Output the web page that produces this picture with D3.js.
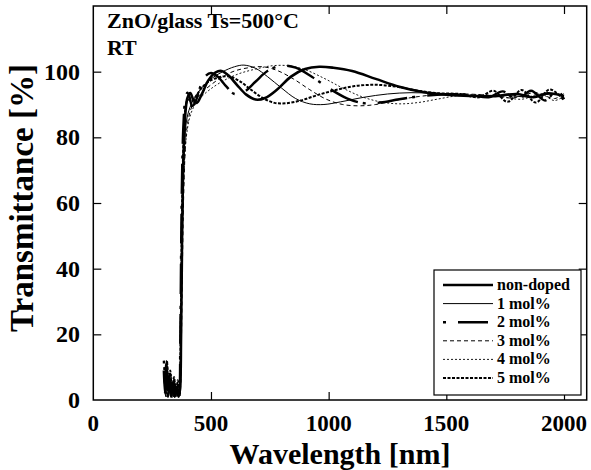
<!DOCTYPE html>
<html>
<head>
<meta charset="utf-8">
<script src="https://cdn.jsdelivr.net/npm/d3@7"></script>
<style>
  body { margin: 0; background: #fff; }
  text { font-family: "Liberation Serif", "Times New Roman", serif; font-weight: bold; fill: #000; }
</style>
</head>
<body>
<div id="chart"></div>
<script>
// wavelength [nm], transmittance [%]
var nonDoped = [[300,9],[305,2],[310,11],[316,3],[322,7],[330,1],[338,5],[346,1],[354,4],[362,1],[368,3],[373,20],[377,48],[381,68],[386,80],[392,88],[400,92],[412,93.5],[425,91.5],[440,90.5],[460,93],[490,97.5],[520,99.8],[545,100.2],[575,98.8],[610,96],[650,93],[690,91.5],[730,92],[780,94.5],[840,98.5],[900,100.8],[960,101.5],[1020,101.2],[1100,100.2],[1200,97.8],[1300,95.4],[1400,93.8],[1500,93],[1600,92.6],[1700,92.5],[1800,93.2],[1870,92.2],[1930,93.4],[2000,92.6]];
var oneMol = [[302,6],[308,1],[314,8],[320,2],[328,6],[336,2],[344,4],[352,1],[360,3],[367,2],[372,18],[377,45],[382,66],[388,78],[396,85],[410,89],[430,92],[460,95],[500,97.8],[550,100],[600,101.5],[640,102],[690,101],[740,98.5],[800,95],[860,91.8],[920,90.2],[980,90],[1050,90.8],[1150,92.2],[1250,93.2],[1350,93.6],[1450,93.4],[1550,93],[1650,92.7],[1750,92.8],[1850,92.3],[1950,93.2],[2000,92.6]];
var twoMol = [[300,12],[306,4],[312,9],[318,1],[326,8],[334,2],[342,6],[350,2],[358,5],[365,1],[370,22],[374,52],[378,72],[383,84],[390,91],[400,93.6],[410,92],[420,89.5],[435,91],[455,95.5],[475,98.5],[500,99.6],[530,98.4],[565,95.5],[600,93.2],[640,93.8],[690,97],[740,100.2],[800,101.8],[860,101.2],[930,98.4],[1000,95],[1080,91.8],[1150,90.4],[1220,90.6],[1300,91.6],[1400,92.6],[1500,93.1],[1600,93],[1680,92.2],[1740,94],[1800,91.4],[1860,94.2],[1920,91.2],[1970,94.4],[2000,91.6]];
var threeMol = [[304,7],[310,2],[316,10],[324,3],[332,7],[340,1],[348,5],[356,2],[364,4],[369,2],[374,16],[379,42],[384,62],[390,75],[398,83],[412,88],[430,91],[460,93.5],[500,96],[550,98.5],[600,100.2],[660,101.2],[720,101.5],[780,100.4],[850,97.8],[920,94.5],[990,91.6],[1060,90],[1130,89.6],[1200,90],[1280,91.2],[1380,92.4],[1480,93.1],[1580,93.2],[1680,92.8],[1780,92],[1880,93.6],[1960,91.8],[2000,93.4]];
var fourMol = [[306,5],[312,1],[318,7],[326,2],[334,5],[342,1],[350,3],[358,1],[366,2],[371,12],[376,38],[381,58],[387,72],[395,80],[408,85.5],[425,89],[455,92],[500,94.8],[560,97.5],[620,99.4],[690,100.8],[760,101.8],[830,101.8],[900,100.6],[980,98],[1060,95],[1140,92.4],[1220,90.8],[1300,90.2],[1380,90.6],[1460,91.6],[1540,92.6],[1620,93],[1720,92.6],[1820,91.6],[1900,93.2],[1960,91.2],[2000,92.6]];
var fiveMol = [[301,10],[307,3],[313,12],[319,4],[327,9],[335,1],[343,7],[351,2],[359,6],[366,1],[371,19],[375,46],[380,70],[385,82],[392,89],[402,91.5],[418,91],[436,92.5],[460,95],[490,97],[530,98.2],[575,98.6],[620,97.2],[670,94.5],[720,92],[770,90.5],[820,90.4],[880,91.2],[950,92.8],[1030,94.4],[1110,95.6],[1200,96],[1290,95.4],[1380,94.2],[1470,93.4],[1560,93.2],[1640,92.2],[1700,94.2],[1760,90.8],[1820,94.4],[1880,90.6],[1940,94.6],[2000,91.2]];

var seriesNames = ["non-doped", "1 mol%", "2 mol%", "3 mol%", "4 mol%", "5 mol%"];
var seriesData = [nonDoped, oneMol, twoMol, threeMol, fourMol, fiveMol];

var xTicks = [0, 500, 1000, 1500, 2000];
var yTicks = [0, 20, 40, 60, 80, 100];

// line styles, one per series
var lineStyles = [
  { width: 2.6, dash: null },
  { width: 1, dash: null },
  { width: 2.4, dash: "3,12,30,5" },
  { width: 1, dash: "4,3" },
  { width: 0.9, dash: "2,2" },
  { width: 2, dash: "3,1.5" }
];

var svgWidth = 591;
var svgHeight = 470;

var plot = { left: 93.3, right: 586.7, top: 6, bottom: 400 };

var svg = d3.select("#chart")
  .append("svg")
  .attr("width", svgWidth)
  .attr("height", svgHeight);

var xScale = d3.scaleLinear()
  .domain([0, 2000])
  .range([plot.left, 564]);

var yScale = d3.scaleLinear()
  .domain([0, 120])
  .range([plot.bottom, plot.top]);

// clip so the curves stay inside the frame
svg.append("clipPath")
  .attr("id", "plotClip")
  .append("rect")
  .attr("x", plot.left)
  .attr("y", plot.top)
  .attr("width", plot.right - plot.left)
  .attr("height", plot.bottom - plot.top);

// axes with inward ticks on all four sides
var tickLen = 8;
svg.append("g")
  .attr("transform", `translate(0, ${plot.bottom})`)
  .call(d3.axisTop(xScale).tickValues(xTicks.slice(1)).tickSize(tickLen).tickFormat(""))
  .call(g => g.select(".domain").remove());
svg.append("g")
  .attr("transform", `translate(0, ${plot.top})`)
  .call(d3.axisBottom(xScale).tickValues(xTicks.slice(1)).tickSize(tickLen).tickFormat(""))
  .call(g => g.select(".domain").remove());
svg.append("g")
  .attr("transform", `translate(${plot.left}, 0)`)
  .call(d3.axisRight(yScale).tickValues(yTicks.slice(1)).tickSize(tickLen).tickFormat(""))
  .call(g => g.select(".domain").remove());
svg.append("g")
  .attr("transform", `translate(${plot.right}, 0)`)
  .call(d3.axisLeft(yScale).tickValues(yTicks.slice(1)).tickSize(tickLen).tickFormat(""))
  .call(g => g.select(".domain").remove());
svg.selectAll(".tick line").attr("stroke", "#000").attr("stroke-width", 1.2);

// tick labels
svg.append("g").selectAll("text")
  .data(xTicks)
  .enter()
  .append("text")
  .attr("x", d => xScale(d))
  .attr("y", 431)
  .attr("text-anchor", "middle")
  .style("font-size", "23px")
  .text(d => d);

svg.append("g").selectAll("text")
  .data(yTicks)
  .enter()
  .append("text")
  .attr("x", 80)
  .attr("y", d => yScale(d) + 8)
  .attr("text-anchor", "end")
  .style("font-size", "24px")
  .text(d => d);

// axis titles
svg.append("text")
  .attr("x", (plot.left + plot.right) / 2)
  .attr("y", 464)
  .attr("text-anchor", "middle")
  .style("font-size", "30px")
  .text("Wavelength [nm]");

svg.append("text")
  .attr("transform", "translate(33, 198) rotate(-90)")
  .attr("text-anchor", "middle")
  .style("font-size", "33px")
  .text("Transmittance [%]");

// the curves
var line = d3.line()
  .x(d => xScale(d[0]))
  .y(d => yScale(d[1]))
  .curve(d3.curveCatmullRom);

svg.append("g")
  .attr("clip-path", "url(#plotClip)")
  .selectAll("path")
  .data(seriesData)
  .enter()
  .append("path")
  .attr("d", line)
  .attr("fill", "none")
  .attr("stroke", "#000")
  .attr("stroke-width", (d, i) => lineStyles[i].width)
  .attr("stroke-dasharray", (d, i) => lineStyles[i].dash);

// frame
svg.append("rect")
  .attr("x", plot.left)
  .attr("y", plot.top)
  .attr("width", plot.right - plot.left)
  .attr("height", plot.bottom - plot.top)
  .attr("fill", "none")
  .attr("stroke", "#000")
  .attr("stroke-width", 1.5);

// annotation
svg.append("text")
  .attr("x", 107)
  .attr("y", 28)
  .style("font-size", "22px")
  .text("ZnO/glass Ts=500°C");
svg.append("text")
  .attr("x", 107)
  .attr("y", 55)
  .style("font-size", "22px")
  .text("RT");

// legend
var legend = svg.append("g");
legend.append("rect")
  .attr("x", 434)
  .attr("y", 270)
  .attr("width", 147)
  .attr("height", 125)
  .attr("fill", "#fff")
  .attr("stroke", "#000")
  .attr("stroke-width", 1.2);

var legendRows = legend.selectAll("g.row")
  .data(seriesNames)
  .enter()
  .append("g")
  .attr("class", "row")
  .attr("transform", (d, i) => `translate(0, ${285 + i * 18.6})`);

legendRows.append("line")
  .attr("x1", 443)
  .attr("x2", 493)
  .attr("y1", 0)
  .attr("y2", 0)
  .attr("stroke", "#000")
  .attr("stroke-width", (d, i) => lineStyles[i].width)
  .attr("stroke-dasharray", (d, i) => lineStyles[i].dash);

legendRows.append("text")
  .attr("x", 497)
  .attr("y", 5)
  .style("font-size", "16px")
  .text(d => d);
</script>
</body>
</html>
